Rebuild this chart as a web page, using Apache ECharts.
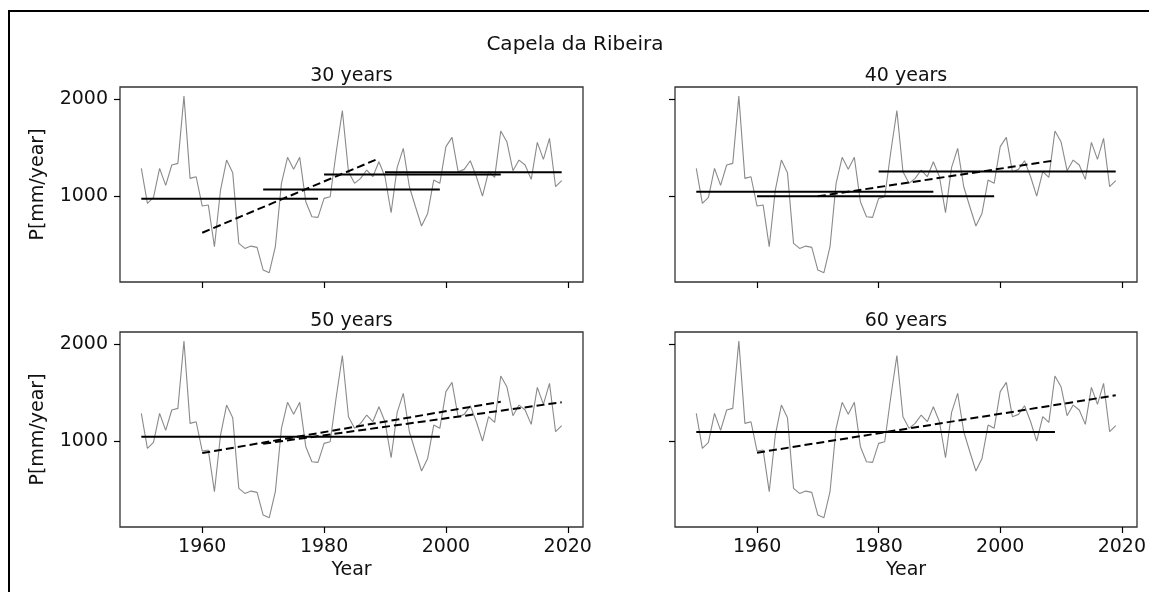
<!DOCTYPE html>
<html>
<head>
<meta charset="utf-8">
<script src="https://cdn.jsdelivr.net/npm/echarts@6/dist/echarts.min.js"></script>
<style>
html,body{margin:0;padding:0;background:#fff;}
#chart{width:1149px;height:592px;}
</style>
</head>
<body>
<div id="chart"></div>
<script>
// ---- data ----
const years = [1950,1951,1952,1953,1954,1955,1956,1957,1958,1959,
  1960,1961,1962,1963,1964,1965,1966,1967,1968,1969,
  1970,1971,1972,1973,1974,1975,1976,1977,1978,1979,
  1980,1981,1982,1983,1984,1985,1986,1987,1988,1989,
  1990,1991,1992,1993,1994,1995,1996,1997,1998,1999,
  2000,2001,2002,2003,2004,2005,2006,2007,2008,2009,
  2010,2011,2012,2013,2014,2015,2016,2017,2018,2019];
const precip = [1285,924,986,1285,1110,1320,1337,2030,1182,1199,
  897,907,478,1062,1371,1241,512,460,484,471,
  237,210,478,1131,1399,1275,1399,942,787,780,
  976,993,1457,1880,1251,1131,1182,1268,1199,1354,
  1199,828,1296,1491,1096,890,691,821,1165,1131,
  1509,1605,1251,1275,1364,1199,1000,1251,1192,1670,
  1560,1261,1371,1320,1172,1553,1378,1595,1096,1158];

// [startYear, endYear, value]
const means30 = [[1950,1979,973],[1970,1999,1068],[1980,2009,1222],[1990,2019,1245]];
const means40 = [[1950,1989,1045],[1960,1999,997],[1980,2019,1253]];
const means50 = [[1950,1999,1045]];
const means60 = [[1950,2009,1093]];
// [startYear, endYear, startValue, endValue]
const trends30 = [[1960,1989,622,1388]];
const trends40 = [[1970,2009,997,1368]];
const trends50 = [[1960,2009,876,1405],[1970,2019,972,1400]];
const trends60 = [[1960,2019,880,1471]];

const panelTitles = ['30 years','40 years','50 years','60 years'];
const mainTitle = 'Capela da Ribeira';
const xTicks = [1960,1980,2000,2020];
const yTicks = [1000,2000];
const yName = 'P[mm/year]';
const xName = 'Year';

// ---- layout ----
const FONT = 'DejaVu Sans';
const XMIN = 1946.5, XMAX = 2022.5, YMIN = 114, YMAX = 2124;
const grids = [
  {left:120, top:87, width:463, height:195},
  {left:675, top:87, width:462, height:195},
  {left:120, top:332, width:463, height:195},
  {left:675, top:332, width:462, height:195}
];
const meanSets = [means30, means40, means50, means60];
const trendSets = [trends30, trends40, trends50, trends60];

const xAxes = [], yAxes = [], series = [];
grids.forEach((g, i) => {
  const bottomRow = i >= 2, leftCol = i % 2 === 0;
  xAxes.push({
    gridIndex: i, type: 'value', min: XMIN, max: XMAX,
    axisLine: {show: false},
    axisTick: {show: true, inside: false, length: 6, customValues: xTicks, lineStyle: {color: '#000', width: 1.2}},
    axisLabel: {show: bottomRow, customValues: xTicks, fontFamily: FONT, fontSize: 19, color: '#111', margin: 11,
      formatter: v => String(v)},
    splitLine: {show: false},
    name: bottomRow ? xName : '', nameLocation: 'middle', nameGap: 34,
    nameTextStyle: {fontFamily: FONT, fontSize: 19, color: '#111'}
  });
  yAxes.push({
    gridIndex: i, type: 'value', min: YMIN, max: YMAX,
    axisLine: {show: false},
    axisTick: {show: true, inside: false, length: 6, customValues: yTicks, lineStyle: {color: '#000', width: 1.2}},
    axisLabel: {show: leftCol, customValues: yTicks, fontFamily: FONT, fontSize: 19, color: '#111', margin: 12,
      formatter: v => String(v)},
    splitLine: {show: false},
    name: leftCol ? yName : '', nameLocation: 'middle', nameGap: 72, nameRotate: 90,
    nameTextStyle: {fontFamily: FONT, fontSize: 19, color: '#111'}
  });
  series.push({
    type: 'line', xAxisIndex: i, yAxisIndex: i, z: 2,
    data: years.map((y, k) => [y, precip[k]]),
    showSymbol: false, symbol: 'none',
    lineStyle: {color: '#8a8a8a', width: 1.1}
  });
  meanSets[i].forEach(m => {
    series.push({
      type: 'line', xAxisIndex: i, yAxisIndex: i, z: 3,
      data: [[m[0], m[2]], [m[1], m[2]]],
      showSymbol: false, symbol: 'none',
      lineStyle: {color: '#000', width: 2}
    });
  });
  trendSets[i].forEach(t => {
    series.push({
      type: 'line', xAxisIndex: i, yAxisIndex: i, z: 3,
      data: [[t[0], t[2]], [t[1], t[3]]],
      showSymbol: false, symbol: 'none',
      lineStyle: {color: '#000', width: 2, type: [8, 4]}
    });
  });
});

const graphic = [
  {type: 'rect', shape: {x: 9, y: 11, width: 1160, height: 620}, style: {fill: null, stroke: '#000', lineWidth: 2}, silent: true},
  {type: 'text', x: 575, y: 45, style: {text: mainTitle, fontFamily: FONT, fontSize: 20, fill: '#111', textAlign: 'center', textVerticalAlign: 'middle'}}
];
grids.forEach((g, i) => {
  graphic.push({type: 'text', x: g.left + g.width / 2, y: g.top - 11,
    style: {text: panelTitles[i], fontFamily: FONT, fontSize: 19, fill: '#111', textAlign: 'center', textVerticalAlign: 'middle'}});
});

const chart = echarts.init(document.getElementById('chart'), null, {renderer: 'canvas'});
chart.setOption({
  animation: false,
  backgroundColor: '#fff',
  grid: grids.map(g => Object.assign({show: true, borderColor: '#333', borderWidth: 1.3, backgroundColor: 'transparent'}, g)),
  xAxis: xAxes,
  yAxis: yAxes,
  series: series,
  graphic: graphic
});
</script>
</body>
</html>
